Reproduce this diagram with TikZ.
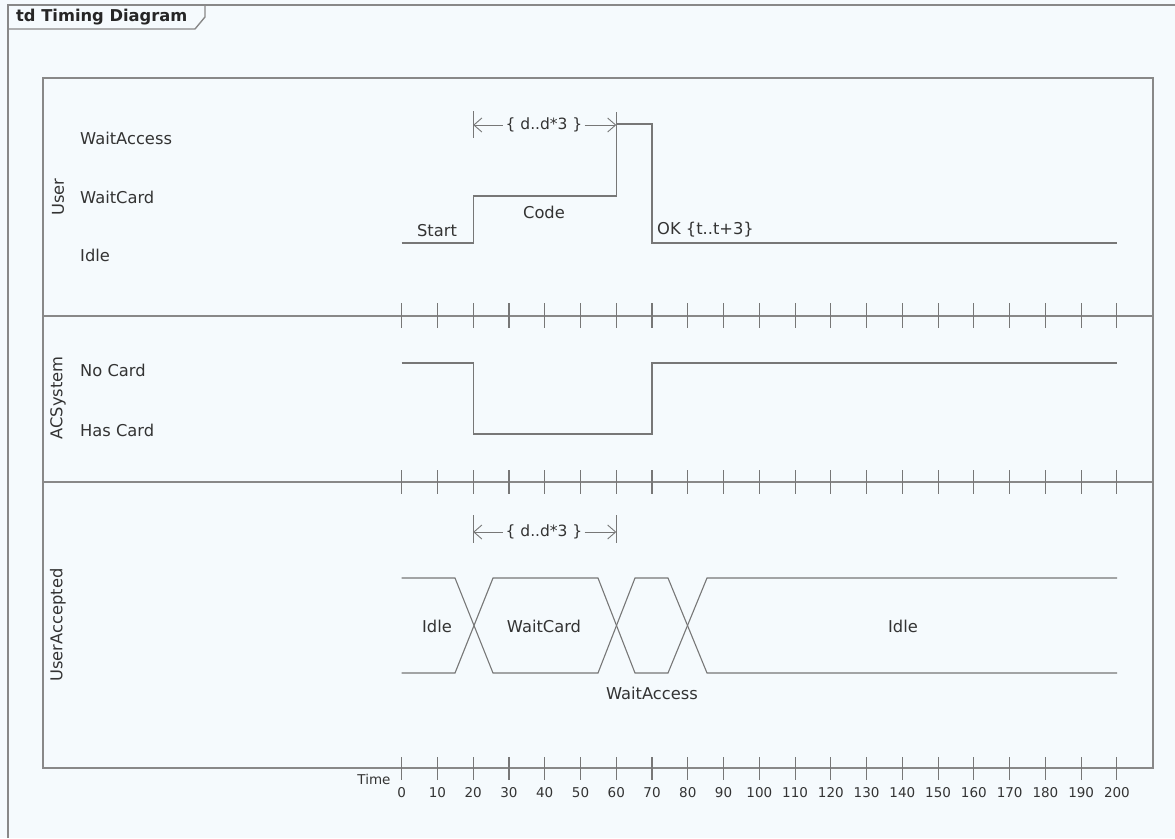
\documentclass[tikz,border=0pt]{standalone}
\usepackage{fontspec}
\setmainfont{DejaVu Sans}
\usetikzlibrary{arrows.meta}
\definecolor{bgc}{HTML}{F5FAFD}
\definecolor{linec}{HTML}{777777}
\definecolor{framec}{HTML}{888888}
\definecolor{txtc}{HTML}{333333}
\tikzset{
  framel/.style={draw=framec,line width=1.4pt},
  wave/.style={draw=linec,line width=1.1pt},
  tickl/.style={draw=linec,line width=1.1pt},
  lbl/.style={font=\fontsize{16.3}{19}\selectfont,text=txtc,inner sep=0pt},
  cons/.style={font=\fontsize{15.5}{18}\selectfont,text=txtc,inner sep=2pt},
  num/.style={font=\fontsize{13.5}{16}\selectfont,text=txtc,inner sep=0pt},
  barb/.style={wave,line width=0.9pt},
}
\begin{document}
\begin{tikzpicture}[x=1pt,y=-1pt]
\useasboundingbox[fill=bgc] (0,0) rectangle (1175,838);
% outer frame
\draw[framel] (8,838) -- (8,5) -- (1175,5);
\draw[framel] (8,29) -- (195,29) -- (205,17) -- (205,5);
\node[font=\bfseries\fontsize{16.3}{19}\selectfont,text=black!85,anchor=west,inner sep=0pt] (title) at (16,17) {td Timing Diagram};
% inner frame
\draw[framel] (43,78) rectangle (1153,768);
\draw[framel] (43,316) -- (1153,316);
\draw[framel] (43,482) -- (1153,482);
% lifeline names
\node[lbl,rotate=90] (uname) at (58,197) {User};
\node[lbl,rotate=90] (aname) at (58,398) {ACSystem};
\node[lbl,rotate=90] (uaname) at (58,625) {UserAccepted};
% state labels
\node[lbl,anchor=west] (s1) at (80,138) {WaitAccess};
\node[lbl,anchor=west] (s2) at (80,197) {WaitCard};
\node[lbl,anchor=west] (s3) at (80,255) {Idle};
\node[lbl,anchor=west] (s4) at (80,370) {No Card};
\node[lbl,anchor=west] (s5) at (80,430) {Has Card};
% ticks
\foreach \t in {0,10,...,200}{
  \pgfmathsetmacro{\xx}{401.7+3.576*\t}
  \draw[tickl] (\xx,303) -- (\xx,328);
  \draw[tickl] (\xx,470) -- (\xx,494);
  \draw[tickl] (\xx,757) -- (\xx,780);
  \node[num] (n\t) at (\xx,793) {\t};
}
\node[num] (timel) at (374,779) {Time};
% User waveform
\draw[wave] (401.7,243) -- (473.2,243) -- (473.2,196) -- (616.3,196) -- (616.3,112);
\draw[wave] (616.3,124) -- (652,124) -- (652,243) -- (1117,243);
\node[lbl] (start) at (437,231) {Start};
\node[lbl] (code) at (544,212) {Code};
\node[lbl,anchor=west] (ok) at (657,230) {OK \{t..t+3\}};
% top duration constraint
\coordinate (tl) at (473.2,125);
\coordinate (tr) at (616.3,125);
\draw[barb] (473.2,111) -- (473.2,138);
\node[cons] (c1) at (544,125) {\{ d..d*3 \}};
\draw[barb,{Straight Barb[length=8pt,width=14pt]}-] (tl) -- (c1.west);
\draw[barb,-{Straight Barb[length=8pt,width=14pt]}] (c1.east) -- (tr);
% ACSystem waveform
\draw[wave] (401.7,363) -- (473.2,363) -- (473.2,434) -- (652,434) -- (652,363) -- (1117,363);
% UserAccepted waveform
\draw[wave] (401.7,578) -- (455,578) -- (493,673) -- (598,673) -- (635,578) -- (668,578) -- (707,673) -- (1117,673);
\draw[wave] (401.7,673) -- (455,673) -- (493,578) -- (598,578) -- (635,673) -- (668,673) -- (707,578) -- (1117,578);
\node[lbl] (ua1) at (437,626) {Idle};
\node[lbl] (ua2) at (544,626) {WaitCard};
\node[lbl] (ua3) at (652,693) {WaitAccess};
\node[lbl] (ua4) at (903,626) {Idle};
% lower duration constraint
\coordinate (bl) at (473.2,532);
\coordinate (br) at (616.3,532);
\draw[barb] (473.2,515) -- (473.2,543);
\draw[barb] (616.3,515) -- (616.3,543);
\node[cons] (c2) at (544,532) {\{ d..d*3 \}};
\draw[barb,{Straight Barb[length=8pt,width=14pt]}-] (bl) -- (c2.west);
\draw[barb,-{Straight Barb[length=8pt,width=14pt]}] (c2.east) -- (br);
\end{tikzpicture}
\end{document}
